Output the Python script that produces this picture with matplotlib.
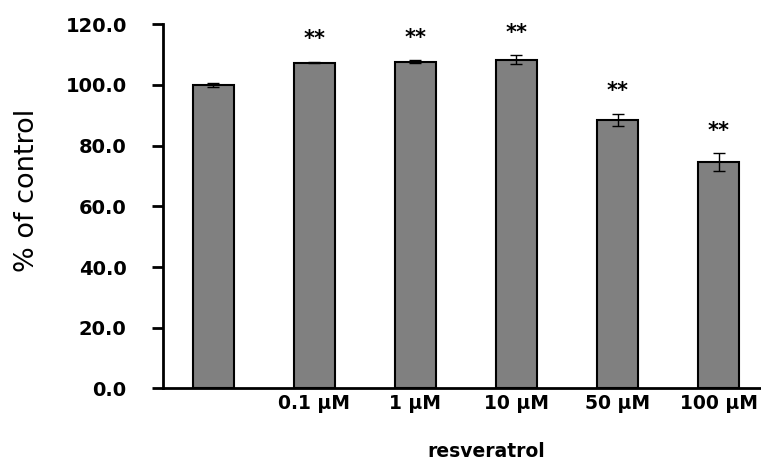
import numpy as np
import matplotlib
matplotlib.use("Agg")
import matplotlib.pyplot as plt

# values
groups = ["", "0.1 μM", "1 μM", "10 μM", "50 μM", "100 μM"]
means = [100.1, 107.4, 107.7, 108.3, 88.5, 74.6]
errors = [0.7, 0.2, 0.4, 1.5, 1.9, 2.9]
marks = ["", "**", "**", "**", "**", "**"]
y_ticks = [0, 20, 40, 60, 80, 100, 120]

plt.rcParams['font.family'] = ['DejaVu Sans']

fig = plt.figure(figsize=(7.61, 4.63), dpi=100)
ax = fig.add_axes([0.214, 0.161, 0.786, 0.7865])

x = np.arange(len(groups))
ax.bar(x, means, width=0.4, color='#808080', edgecolor='black', linewidth=1.5, zorder=2)
ax.errorbar(x, means, yerr=errors, fmt='none', ecolor='black', elinewidth=1,
            capsize=4, capthick=1, zorder=3)

for xi, m, e, s in zip(x, means, errors, marks):
    if s:
        ax.text(xi, m + e + 7.5, s, ha='center', va='center', fontsize=15, fontweight='bold')

ax.set_xlim(-0.5, 5.42)
ax.set_ylim(0, 120)
ax.set_yticks(y_ticks)
ax.set_yticklabels([f"{v:.1f}" for v in y_ticks], fontsize=14, fontweight='bold')
ax.set_xticks(x)
ax.set_xticklabels(groups, fontsize=13.5, fontweight='bold')
ax.tick_params(axis='x', length=0, pad=4)
ax.tick_params(axis='y', length=8, width=2, direction='out', pad=18)

for side in ['top', 'right']:
    ax.spines[side].set_visible(False)
for side in ['left', 'bottom']:
    ax.spines[side].set_linewidth(2)

ax.set_ylabel('% of control', fontsize=19.5)
ax.yaxis.set_label_coords(-0.205, 0.545)
ax.set_xlabel('resveratrol', fontsize=13.5, fontweight='bold')
ax.xaxis.set_label_coords(0.54, -0.148)

fig.savefig('out.png', dpi=100)
